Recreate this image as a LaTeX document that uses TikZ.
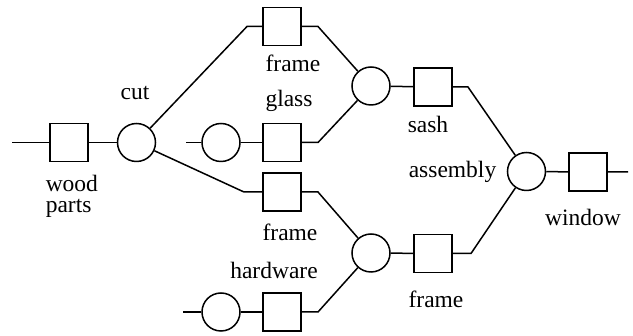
\documentclass[tikz,border=0pt]{standalone}
\usepackage{fontspec}
\setmainfont{Liberation Serif}
\begin{document}
\begin{tikzpicture}[x=1pt,y=-1pt,line width=1.5pt,
  box/.style={draw,rectangle,minimum width=38pt,minimum height=38pt,inner sep=0pt},
  op/.style={draw,circle,minimum size=38pt,inner sep=0pt},
  lab/.style={font=\fontsize{23.5}{21.5}\selectfont,inner sep=0pt,anchor=base}]
\useasboundingbox (0,0) rectangle (633,336);
% nodes
\coordinate (in) at (12,142.5);
\node[box] (wood) at (69,142.5) {};
\node[op] (cut) at (136.5,142.5) {};
\node[box] (f1) at (282,26.5) {};
\coordinate (gin) at (186,142.5);
\node[op] (gop) at (221,142.5) {};
\node[box] (glass) at (282,142.5) {};
\node[box] (f2) at (282,192) {};
\coordinate (hin) at (183,312);
\node[op] (hop) at (221,312) {};
\node[box] (hw) at (282,312) {};
\node[op] (m1) at (371,86) {};
\node[box] (sash) at (433,87) {};
\node[op] (m2) at (371,253) {};
\node[box] (f3) at (433,253.5) {};
\node[op] (asm) at (526.5,171.5) {};
\node[box] (win) at (588,172) {};
\coordinate (out) at (628,172);
% bends
\coordinate (b1) at (247,26.5);
\coordinate (b2) at (244,192);
\coordinate (r1) at (318,26.5);
\coordinate (r2) at (318,142.5);
\coordinate (r3) at (318,192);
\coordinate (r4) at (318,312);
\coordinate (s1) at (468,87);
\coordinate (s2) at (471,253.5);
% connectors
\draw (in) -- (wood) -- (cut);
\draw (cut) -- (b1) -- (f1);
\draw (cut) -- (b2) -- (f2);
\draw (gin) -- (gop) -- (glass);
\draw (hin) -- (hop) -- (hw);
\draw (f1) -- (r1) -- (m1);
\draw (glass) -- (r2) -- (m1);
\draw (f2) -- (r3) -- (m2);
\draw (hw) -- (r4) -- (m2);
\draw (m1) -- (sash) -- (s1) -- (asm);
\draw (m2) -- (f3) -- (s2) -- (asm);
\draw (asm) -- (win) -- (out);
% labels
\node[lab] (lcut) at (135,100) {cut};
\node[lab,anchor=base west,align=left] (lwood) at (45,213) {wood\\parts};
\node[lab] (lf1) at (293,72) {frame};
\node[lab] (lglass) at (289,107) {glass};
\node[lab] (lf2) at (290,241) {frame};
\node[lab] (lhw) at (274,279) {hardware};
\node[lab] (lsash) at (428,133) {sash};
\node[lab,anchor=base east] (lasm) at (497,178) {assembly};
\node[lab] (lwin) at (583,226) {window};
\node[lab] (lf3) at (436,308) {frame};
\end{tikzpicture}
\end{document}
